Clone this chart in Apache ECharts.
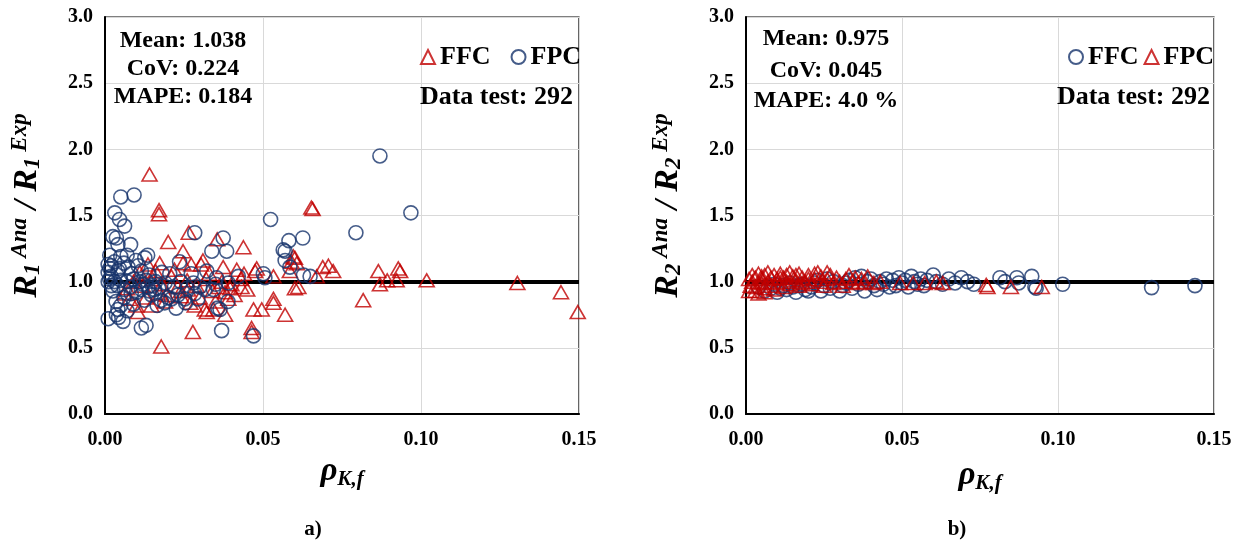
<!DOCTYPE html>
<html>
<head>
<meta charset="utf-8">
<script src="https://cdn.jsdelivr.net/npm/echarts@6/dist/echarts.min.js"></script>
<style>
html,body{margin:0;padding:0;background:#fff;}
#chart{width:1241px;height:549px;}
</style>
</head>
<body>
<div id="chart"></div>
<script>
// ---------- DATA ----------
const xTickLabels = ['0.00', '0.05', '0.10', '0.15'];
const yTickLabels = ['0.0', '0.5', '1.0', '1.5', '2.0', '2.5', '3.0'];
const refValue = 1.0;

const statsA = ['Mean: 1.038', 'CoV: 0.224', 'MAPE: 0.184'];
const statsB = ['Mean: 0.975', 'CoV: 0.045', 'MAPE: 4.0 %'];
const dataTestLabel = 'Data test: 292';
const panelLabels = ['a)', 'b)'];

// Panel a) FFC (red triangles)
const leftFFC = [
[0.0141,1.81],[0.0171,1.54],[0.0171,1.51],[0.0265,1.37],[0.020,1.30],[0.0247,1.23],[0.0273,1.13],
[0.0247,1.14],[0.0173,1.14],[0.0136,1.13],[0.0304,1.13],[0.0438,1.26],[0.0355,1.32],[0.0475,1.08],
[0.0417,1.09],[0.0374,1.11],[0.0432,0.96],[0.0396,0.95],[0.039,0.87],[0.047,0.79],[0.0496,0.79],
[0.0533,0.84],[0.0533,0.87],[0.057,0.75],[0.038,0.75],[0.0322,0.77],[0.0343,0.79],[0.0464,0.65],
[0.0464,0.62],[0.0601,0.95],[0.0612,0.96],[0.059,1.15],[0.0601,1.18],[0.0533,1.04],[0.031,1.16],
[0.0653,1.56],[0.0657,1.55],[0.0596,1.19],[0.0607,1.14],[0.0585,1.08],[0.0689,1.11],[0.0707,1.12],
[0.0722,1.08],[0.067,1.04],[0.0817,0.86],[0.0865,1.08],[0.087,0.98],[0.0893,1.01],[0.0923,1.01],
[0.0928,1.10],[0.0934,1.08],[0.1018,1.01],[0.1305,0.99],[0.1443,0.92],[0.1496,0.77],[0.0278,0.62],
[0.0178,0.51],[0.0104,0.77],[0.0062,0.91],[0.0078,0.87],[0.0099,0.82],[0.0147,0.82],[0.0173,0.91],
[0.0194,0.90],[0.0241,0.89],[0.0263,0.94],[0.0284,0.82],[0.0316,0.79],[0.009,1.0],[0.012,0.97],
[0.015,1.02],[0.018,0.98],[0.021,1.04],[0.023,0.96],[0.026,1.01],[0.029,0.97],[0.032,1.02],
[0.034,0.93],[0.037,1.0],[0.040,0.98],[0.043,1.02],[0.045,0.94],[0.011,1.07],[0.016,1.08],
[0.022,1.09],[0.027,0.84],[0.030,0.88],[0.035,0.85],[0.038,0.92],[0.041,0.90],[0.044,1.06],
[0.007,0.95],[0.013,0.88],[0.019,0.85],[0.024,0.93],[0.033,1.06],[0.036,0.96],[0.048,1.10]
];
// Panel a) FPC (blue circles)
const leftFPC = [
[0.005,1.64],[0.0092,1.655],[0.0031,1.52],[0.0046,1.47],[0.0062,1.42],[0.0284,1.37],[0.0025,1.34],
[0.0036,1.33],[0.0081,1.28],[0.0041,1.28],[0.0015,1.20],[0.005,1.19],[0.0098,1.16],[0.0126,1.18],
[0.0205,1.06],[0.0236,1.15],[0.0273,1.06],[0.001,1.07],[0.0019,1.04],[0.0041,1.08],[0.0073,1.11],
[0.0083,1.06],[0.001,0.72],[0.0036,0.75],[0.0057,0.70],[0.0115,0.65],[0.013,0.67],[0.0041,0.79],
[0.0338,1.23],[0.0385,1.23],[0.0564,1.24],[0.0582,1.31],[0.057,1.16],[0.0628,1.05],[0.0501,1.06],
[0.0506,1.03],[0.0422,1.04],[0.0353,1.03],[0.0322,1.08],[0.0364,0.79],[0.0357,0.80],[0.0369,0.63],
[0.047,0.59],[0.0389,0.85],[0.0343,0.94],[0.039,0.99],[0.0524,1.47],[0.0626,1.33],[0.0374,1.33],
[0.087,1.95],[0.0968,1.52],[0.0794,1.37],[0.057,1.23],[0.0585,1.11],[0.0649,1.04],[0.0062,0.94],
[0.0083,0.91],[0.0115,0.94],[0.0136,0.96],[0.0147,0.90],[0.0157,0.94],[0.0178,0.86],[0.0189,0.84],
[0.021,0.87],[0.0231,0.90],[0.0252,0.87],[0.0284,0.91],[0.0294,0.87],[0.0316,0.94],[0.001,1.0],
[0.002,0.97],[0.0015,1.02],[0.003,1.0],[0.0025,0.93],[0.004,0.97],[0.005,1.01],[0.006,0.88],
[0.007,1.0],[0.008,0.96],[0.009,1.02],[0.01,0.92],[0.011,1.0],[0.012,0.98],[0.013,1.01],[0.014,0.93],
[0.015,0.97],[0.016,1.0],[0.017,0.95],[0.019,0.99],[0.022,0.96],[0.024,1.0],[0.026,0.95],[0.028,0.99],
[0.03,0.96],[0.035,0.98],[0.002,1.12],[0.003,1.15],[0.0045,1.1],[0.006,1.14],[0.007,1.2],[0.0105,1.12],
[0.0035,0.85],[0.005,0.82],[0.007,0.78],[0.009,0.83],[0.0125,0.86],[0.0165,0.82],[0.02,0.88],
[0.0225,0.8],[0.0255,0.84],[0.0043,0.73],[0.0015,1.1],[0.001,1.13],[0.0115,1.08],[0.014,1.05],
[0.018,1.07],[0.0135,1.2]
];
// Panel b) FFC (blue circles)
const rightFFC = [
[0.006,0.93],[0.008,0.95],[0.010,0.92],[0.012,0.97],[0.013,0.94],[0.015,0.96],[0.016,0.92],[0.018,0.98],
[0.019,0.94],[0.021,0.96],[0.022,0.99],[0.024,0.93],[0.025,0.97],[0.027,0.95],[0.028,1.0],[0.030,0.93],
[0.031,0.97],[0.033,1.01],[0.034,0.95],[0.035,1.03],[0.036,0.98],[0.037,1.04],[0.038,0.93],[0.039,1.0],
[0.040,1.02],[0.041,0.97],[0.043,1.0],[0.044,0.98],[0.045,1.02],[0.046,0.96],[0.047,1.01],[0.048,0.97],
[0.049,1.03],[0.050,0.99],[0.051,1.01],[0.052,0.96],[0.053,1.04],[0.054,1.0],[0.055,0.98],[0.056,1.02],
[0.057,0.97],[0.058,1.01],[0.06,1.05],[0.061,1.0],[0.063,0.98],[0.065,1.02],[0.067,0.99],[0.069,1.03],
[0.071,1.0],[0.073,0.98],[0.0814,1.03],[0.083,1.0],[0.0868,1.03],[0.0874,0.99],[0.0916,1.04],[0.0926,0.96],
[0.093,0.95],[0.1015,0.98],[0.130,0.955],[0.1439,0.97],[0.004,0.96],[0.009,0.98],[0.014,0.99],[0.02,0.93],
[0.026,1.02],[0.032,0.99],[0.042,0.94],[0.011,0.95],[0.017,0.97],[0.023,1.01]
];
// Panel b) FPC (red triangles)
const rightFPC = [
[0.001,0.93],[0.002,1.0],[0.002,1.05],[0.003,0.96],[0.003,1.03],[0.004,0.91],[0.004,1.06],[0.005,0.99],
[0.005,1.02],[0.006,0.95],[0.006,1.05],[0.007,1.0],[0.007,1.07],[0.008,0.97],[0.008,1.03],[0.009,1.05],
[0.010,0.99],[0.010,1.02],[0.011,1.06],[0.012,0.96],[0.012,1.03],[0.013,1.0],[0.014,1.07],[0.014,0.98],
[0.015,1.04],[0.016,1.01],[0.017,1.06],[0.017,0.97],[0.018,1.03],[0.019,1.0],[0.020,1.05],[0.021,0.98],
[0.022,1.02],[0.023,1.07],[0.024,1.0],[0.024,1.04],[0.025,0.97],[0.026,1.02],[0.027,1.05],[0.028,0.99],
[0.029,1.03],[0.030,1.0],[0.031,0.97],[0.032,1.02],[0.033,1.05],[0.034,1.0],[0.035,1.03],[0.036,0.99],
[0.037,1.02],[0.038,1.0],[0.039,1.04],[0.041,0.99],[0.043,1.0],[0.0494,0.99],[0.0536,0.99],[0.0573,0.99],
[0.061,1.0],[0.0631,0.99],[0.077,0.975],[0.0774,0.96],[0.0849,0.96],[0.0948,0.96],[0.003,0.93],[0.006,0.92],
[0.009,0.94],[0.005,1.04],[0.011,1.03],[0.016,1.05],[0.02,1.02],[0.022,1.06],[0.026,1.07],[0.018,0.99],
[0.013,1.05],[0.001,1.02],[0.0015,0.97]
];

// ---------- STYLE ----------
const FONT = "'Liberation Serif','Times New Roman',serif";
const RED = '#C00000';
const BLUE = '#17336B';
const GRIDS = [
  {left: 105, top: 17, width: 474, height: 397},
  {left: 746, top: 17, width: 468, height: 397}
];

function xAxisCfg(idx, gap) {
  return {
    gridIndex: idx, type: 'value', min: 0, max: 0.15, interval: 0.05,
    axisLine: {show: true, onZero: false, lineStyle: {color: '#000', width: 2}},
    axisTick: {show: false},
    splitLine: {show: true, lineStyle: {color: '#d9d9d9', width: 1}},
    axisLabel: {
      margin: 16, color: '#000', fontFamily: FONT, fontWeight: 'bold', fontSize: 20,
      formatter: v => xTickLabels[Math.round(v / 0.05)]
    },
    name: '{p|ρ}{s|K,f}', nameLocation: 'middle', nameGap: gap,
    nameTextStyle: {
      rich: {
        p: {fontFamily: FONT, fontStyle: 'italic', fontWeight: 'bold', fontSize: 33, color: '#000', lineHeight: 38, verticalAlign: 'middle'},
        s: {fontFamily: FONT, fontStyle: 'italic', fontWeight: 'bold', fontSize: 21, color: '#000', lineHeight: 18, verticalAlign: 'bottom'}
      }
    }
  };
}
function yAxisCfg(idx, n) {
  return {
    gridIndex: idx, type: 'value', min: 0, max: 3, interval: 0.5,
    axisLine: {show: true, onZero: false, lineStyle: {color: '#000', width: 2}},
    axisTick: {show: false},
    splitLine: {show: true, lineStyle: {color: '#d9d9d9', width: 1}},
    axisLabel: {
      margin: 12, color: '#000', fontFamily: FONT, fontWeight: 'bold', fontSize: 20,
      formatter: v => yTickLabels[Math.round(v / 0.5)]
    },
    name: '{R|R}{sub|' + n + '}{sup| Ana}{R| / R}{sub|' + n + '}{sup| Exp}',
    nameLocation: 'middle', nameRotate: 90, nameGap: 60,
    nameTextStyle: {
      padding: [0, 0, 0, 20],
      rich: {
        R: {fontFamily: FONT, fontStyle: 'italic', fontWeight: 'bold', fontSize: 34, color: '#000', lineHeight: 36, verticalAlign: 'middle'},
        sub: {fontFamily: FONT, fontStyle: 'italic', fontWeight: 'bold', fontSize: 23, color: '#000', lineHeight: 22, verticalAlign: 'bottom'},
        sup: {fontFamily: FONT, fontStyle: 'italic', fontWeight: 'bold', fontSize: 23, color: '#000', lineHeight: 22, verticalAlign: 'top'}
      }
    }
  };
}
function scatter(name, idx, data, shape, color, z) {
  return {
    name: name, type: 'scatter', xAxisIndex: idx, yAxisIndex: idx, data: data,
    symbol: shape, symbolSize: shape === 'triangle' ? [15, 13] : 14,
    itemStyle: {color: 'rgba(255,255,255,0)', borderColor: color, borderWidth: 1.6},
    emphasis: {disabled: true}, z: z, animation: false
  };
}
function refLine(idx) {
  return {
    type: 'line', xAxisIndex: idx, yAxisIndex: idx, data: [], z: 5,
    markLine: {
      silent: true, symbol: ['none', 'none'], label: {show: false}, animation: false,
      lineStyle: {color: '#000', width: 4, type: 'solid'},
      data: [{yAxis: refValue}]
    }
  };
}
function statText(x, y, txt, align, size) {
  return {type: 'text', x: x, y: y, z: 100,
    style: {text: txt, align: align || 'center', verticalAlign: 'middle',
      fontFamily: FONT, fontWeight: 'bold', fontSize: size || 24, fill: '#000'}};
}
function legendCfg(left, gap, names) {
  return {
    left: left, top: 39, itemGap: gap, itemWidth: 14, itemHeight: 14,
    data: names, selectedMode: false,
    formatter: n => n.replace(/_.*$/, ''),
    textStyle: {fontFamily: FONT, fontWeight: 'bold', fontSize: 26, color: '#000', padding: [0, 0, 0, 0]}
  };
}

const chart = echarts.init(document.getElementById('chart'), null, {renderer: 'canvas'});
chart.setOption({
  backgroundColor: '#fff',
  animation: false,
  grid: GRIDS.map(g => Object.assign({show: true, borderColor: '#000', borderWidth: 1.2, backgroundColor: 'transparent'}, g)),
  xAxis: [xAxisCfg(0, 29), xAxisCfg(1, 42)],
  yAxis: [yAxisCfg(0, 1), yAxisCfg(1, 2)],
  legend: [
    legendCfg(415, 20, ['FFC_a', 'FPC_a']),
    legendCfg(1063, 5, ['FFC_b', 'FPC_b'])
  ],
  series: [
    refLine(0), refLine(1),
    scatter('FFC_a', 0, leftFFC, 'triangle', RED, 10),
    scatter('FPC_a', 0, leftFPC, 'circle', BLUE, 11),
    scatter('FFC_b', 1, rightFFC, 'circle', BLUE, 10),
    scatter('FPC_b', 1, rightFPC, 'triangle', RED, 11)
  ],
  graphic: [
    statText(183, 41, statsA[0]), statText(183, 69, statsA[1]), statText(183, 97, statsA[2]),
    statText(573, 97, dataTestLabel, 'right', 26),
    statText(826, 39, statsB[0]), statText(826, 71, statsB[1]), statText(826, 101, statsB[2]),
    statText(1210, 97, dataTestLabel, 'right', 26),
    statText(313, 530, panelLabels[0], 'center', 21), statText(957, 530, panelLabels[1], 'center', 21)
  ]
});
</script>
</body>
</html>
